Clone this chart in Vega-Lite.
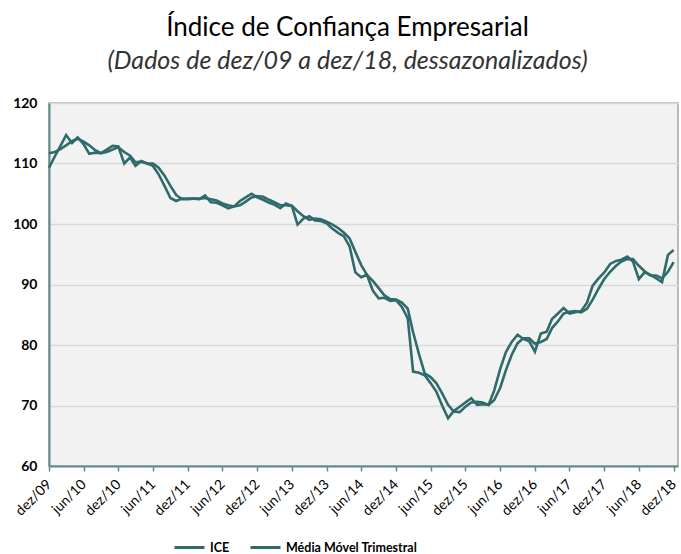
{
  "$schema": "https://vega.github.io/schema/vega-lite/v6.json",
  "width": 629,
  "height": 363,
  "autosize": {"type": "none"},
  "padding": {"left": 49, "top": 103, "right": 3, "bottom": 88},
  "background": "white",
  "title": {
    "text": "Índice de Confiança Empresarial",
    "subtitle": "(Dados de dez/09 a dez/18, dessazonalizados)",
    "font": "Lato",
    "fontSize": 26,
    "fontWeight": "normal",
    "color": "#000000",
    "subtitleFont": "Lato",
    "subtitleFontSize": 25,
    "subtitleFontStyle": "italic",
    "subtitleColor": "#333333",
    "subtitlePadding": 8,
    "anchor": "middle",
    "frame": "group",
    "dx": -16,
    "offset": 22
  },
  "config": {
    "view": {"fill": "#F2F2F2", "stroke": "#A6A6A6", "strokeWidth": 1.5}
  },
  "data": {
    "values": [
      {"d": "2009-12-01", "ice": 109.3, "mm": 111.7},
      {"d": "2010-01-01", "ice": 111.2, "mm": 111.9},
      {"d": "2010-02-01", "ice": 113.0, "mm": 112.4},
      {"d": "2010-03-01", "ice": 114.7, "mm": 113.0},
      {"d": "2010-04-01", "ice": 113.4, "mm": 113.7},
      {"d": "2010-05-01", "ice": 114.3, "mm": 114.1},
      {"d": "2010-06-01", "ice": 113.2, "mm": 113.6},
      {"d": "2010-07-01", "ice": 111.6, "mm": 113.0},
      {"d": "2010-08-01", "ice": 111.8, "mm": 112.2},
      {"d": "2010-09-01", "ice": 111.7, "mm": 111.7},
      {"d": "2010-10-01", "ice": 112.3, "mm": 111.9},
      {"d": "2010-11-01", "ice": 112.9, "mm": 112.3},
      {"d": "2010-12-01", "ice": 112.8, "mm": 112.7},
      {"d": "2011-01-01", "ice": 110.0, "mm": 111.9},
      {"d": "2011-02-01", "ice": 111.0, "mm": 111.3},
      {"d": "2011-03-01", "ice": 109.6, "mm": 110.2},
      {"d": "2011-04-01", "ice": 110.4, "mm": 110.3},
      {"d": "2011-05-01", "ice": 110.0, "mm": 110.0},
      {"d": "2011-06-01", "ice": 109.6, "mm": 110.0},
      {"d": "2011-07-01", "ice": 108.2, "mm": 109.3},
      {"d": "2011-08-01", "ice": 106.3, "mm": 108.0},
      {"d": "2011-09-01", "ice": 104.3, "mm": 106.3},
      {"d": "2011-10-01", "ice": 103.8, "mm": 104.8},
      {"d": "2011-11-01", "ice": 104.2, "mm": 104.1},
      {"d": "2011-12-01", "ice": 104.2, "mm": 104.1},
      {"d": "2012-01-01", "ice": 104.2, "mm": 104.2},
      {"d": "2012-02-01", "ice": 104.1, "mm": 104.2},
      {"d": "2012-03-01", "ice": 104.7, "mm": 104.3},
      {"d": "2012-04-01", "ice": 103.6, "mm": 104.1},
      {"d": "2012-05-01", "ice": 103.5, "mm": 103.9},
      {"d": "2012-06-01", "ice": 103.1, "mm": 103.4},
      {"d": "2012-07-01", "ice": 102.6, "mm": 103.1},
      {"d": "2012-08-01", "ice": 102.9, "mm": 102.9},
      {"d": "2012-09-01", "ice": 103.8, "mm": 103.1},
      {"d": "2012-10-01", "ice": 104.4, "mm": 103.7},
      {"d": "2012-11-01", "ice": 105.0, "mm": 104.4},
      {"d": "2012-12-01", "ice": 104.4, "mm": 104.6},
      {"d": "2013-01-01", "ice": 104.0, "mm": 104.5},
      {"d": "2013-02-01", "ice": 103.5, "mm": 104.0},
      {"d": "2013-03-01", "ice": 103.2, "mm": 103.6},
      {"d": "2013-04-01", "ice": 102.6, "mm": 103.1},
      {"d": "2013-05-01", "ice": 103.4, "mm": 103.1},
      {"d": "2013-06-01", "ice": 103.0, "mm": 103.0},
      {"d": "2013-07-01", "ice": 99.9, "mm": 102.1},
      {"d": "2013-08-01", "ice": 100.9, "mm": 101.3},
      {"d": "2013-09-01", "ice": 101.3, "mm": 100.7},
      {"d": "2013-10-01", "ice": 100.6, "mm": 100.9},
      {"d": "2013-11-01", "ice": 100.5, "mm": 100.8},
      {"d": "2013-12-01", "ice": 100.1, "mm": 100.4},
      {"d": "2014-01-01", "ice": 99.2, "mm": 99.9},
      {"d": "2014-02-01", "ice": 98.5, "mm": 99.3},
      {"d": "2014-03-01", "ice": 98.0, "mm": 98.6},
      {"d": "2014-04-01", "ice": 96.3, "mm": 97.6},
      {"d": "2014-05-01", "ice": 92.0, "mm": 95.4},
      {"d": "2014-06-01", "ice": 91.2, "mm": 93.2},
      {"d": "2014-07-01", "ice": 91.6, "mm": 91.6},
      {"d": "2014-08-01", "ice": 89.0, "mm": 90.6},
      {"d": "2014-09-01", "ice": 87.7, "mm": 89.4},
      {"d": "2014-10-01", "ice": 87.8, "mm": 88.2},
      {"d": "2014-11-01", "ice": 87.3, "mm": 87.6},
      {"d": "2014-12-01", "ice": 87.4, "mm": 87.5},
      {"d": "2015-01-01", "ice": 86.3, "mm": 87.0},
      {"d": "2015-02-01", "ice": 84.4, "mm": 86.0},
      {"d": "2015-03-01", "ice": 75.6, "mm": 82.1},
      {"d": "2015-04-01", "ice": 75.4, "mm": 78.5},
      {"d": "2015-05-01", "ice": 75.0, "mm": 75.3},
      {"d": "2015-06-01", "ice": 73.7, "mm": 74.7},
      {"d": "2015-07-01", "ice": 72.3, "mm": 73.7},
      {"d": "2015-08-01", "ice": 70.0, "mm": 72.0},
      {"d": "2015-09-01", "ice": 67.9, "mm": 70.1},
      {"d": "2015-10-01", "ice": 69.1, "mm": 69.0},
      {"d": "2015-11-01", "ice": 69.8, "mm": 68.9},
      {"d": "2015-12-01", "ice": 70.5, "mm": 69.8},
      {"d": "2016-01-01", "ice": 71.2, "mm": 70.5},
      {"d": "2016-02-01", "ice": 70.1, "mm": 70.6},
      {"d": "2016-03-01", "ice": 70.2, "mm": 70.5},
      {"d": "2016-04-01", "ice": 70.1, "mm": 70.1},
      {"d": "2016-05-01", "ice": 72.5, "mm": 70.9},
      {"d": "2016-06-01", "ice": 76.0, "mm": 72.9},
      {"d": "2016-07-01", "ice": 78.8, "mm": 75.8},
      {"d": "2016-08-01", "ice": 80.5, "mm": 78.4},
      {"d": "2016-09-01", "ice": 81.7, "mm": 80.3},
      {"d": "2016-10-01", "ice": 81.0, "mm": 81.1},
      {"d": "2016-11-01", "ice": 80.6, "mm": 81.1},
      {"d": "2016-12-01", "ice": 78.9, "mm": 80.2},
      {"d": "2017-01-01", "ice": 81.9, "mm": 80.5},
      {"d": "2017-02-01", "ice": 82.2, "mm": 81.0},
      {"d": "2017-03-01", "ice": 84.3, "mm": 82.8},
      {"d": "2017-04-01", "ice": 85.2, "mm": 83.9},
      {"d": "2017-05-01", "ice": 86.1, "mm": 85.2},
      {"d": "2017-06-01", "ice": 85.2, "mm": 85.5},
      {"d": "2017-07-01", "ice": 85.4, "mm": 85.6},
      {"d": "2017-08-01", "ice": 85.6, "mm": 85.4},
      {"d": "2017-09-01", "ice": 87.0, "mm": 86.0},
      {"d": "2017-10-01", "ice": 89.8, "mm": 87.5},
      {"d": "2017-11-01", "ice": 91.0, "mm": 89.3},
      {"d": "2017-12-01", "ice": 92.0, "mm": 90.9},
      {"d": "2018-01-01", "ice": 93.4, "mm": 92.1},
      {"d": "2018-02-01", "ice": 93.9, "mm": 93.1},
      {"d": "2018-03-01", "ice": 94.1, "mm": 93.8},
      {"d": "2018-04-01", "ice": 94.6, "mm": 94.2},
      {"d": "2018-05-01", "ice": 93.8, "mm": 94.2},
      {"d": "2018-06-01", "ice": 90.9, "mm": 93.1},
      {"d": "2018-07-01", "ice": 92.0, "mm": 92.2},
      {"d": "2018-08-01", "ice": 91.6, "mm": 91.5},
      {"d": "2018-09-01", "ice": 91.0, "mm": 91.5},
      {"d": "2018-10-01", "ice": 90.4, "mm": 91.0},
      {"d": "2018-11-01", "ice": 94.9, "mm": 92.1},
      {"d": "2018-12-01", "ice": 95.7, "mm": 93.7}
    ]
  },
  "transform": [
    {"fold": ["ice", "mm"], "as": ["serie", "valor"]}
  ],
  "mark": {"type": "line", "strokeWidth": 2.6, "strokeJoin": "miter"},
  "encoding": {
    "x": {
      "field": "d",
      "type": "temporal",
      "scale": {
        "type": "utc",
        "domain": [
          {"year": 2009, "month": 12, "date": 1, "utc": true},
          {"year": 2018, "month": 12, "date": 24, "utc": true}
        ]
      },
      "axis": {
        "title": null,
        "grid": false,
        "values": [
          {"year": 2009, "month": 12, "date": 1, "utc": true},
          {"year": 2010, "month": 6, "date": 1, "utc": true},
          {"year": 2010, "month": 12, "date": 1, "utc": true},
          {"year": 2011, "month": 6, "date": 1, "utc": true},
          {"year": 2011, "month": 12, "date": 1, "utc": true},
          {"year": 2012, "month": 6, "date": 1, "utc": true},
          {"year": 2012, "month": 12, "date": 1, "utc": true},
          {"year": 2013, "month": 6, "date": 1, "utc": true},
          {"year": 2013, "month": 12, "date": 1, "utc": true},
          {"year": 2014, "month": 6, "date": 1, "utc": true},
          {"year": 2014, "month": 12, "date": 1, "utc": true},
          {"year": 2015, "month": 6, "date": 1, "utc": true},
          {"year": 2015, "month": 12, "date": 1, "utc": true},
          {"year": 2016, "month": 6, "date": 1, "utc": true},
          {"year": 2016, "month": 12, "date": 1, "utc": true},
          {"year": 2017, "month": 6, "date": 1, "utc": true},
          {"year": 2017, "month": 12, "date": 1, "utc": true},
          {"year": 2018, "month": 6, "date": 1, "utc": true},
          {"year": 2018, "month": 12, "date": 1, "utc": true}
        ],
        "labelExpr": "(utcmonth(datum.value) == 11 ? 'dez/' : 'jun/') + utcFormat(datum.value, '%y')",
        "labelAngle": -45,
        "labelAlign": "right",
        "labelBaseline": "middle",
        "labelFont": "Lato",
        "labelFontSize": 14,
        "labelColor": "#000000",
        "labelPadding": 11,
        "labelOverlap": false,
        "labelFlush": false,
        "domainColor": "#5F8A8B",
        "domainWidth": 2,
        "tickColor": "#5F8A8B",
        "tickWidth": 1.5,
        "tickSize": 5
      }
    },
    "y": {
      "field": "valor",
      "type": "quantitative",
      "scale": {"domain": [60, 120], "nice": false, "zero": false},
      "axis": {
        "title": null,
        "values": [60, 70, 80, 90, 100, 110, 120],
        "grid": true,
        "gridColor": "#D9D9D9",
        "gridWidth": 1.5,
        "ticks": false,
        "domainColor": "#5F8A8B",
        "domainWidth": 2,
        "labelFont": "Lato",
        "labelFontSize": 14,
        "labelFontWeight": "bold",
        "labelColor": "#000000",
        "labelPadding": 12
      }
    },
    "color": {
      "field": "serie",
      "type": "nominal",
      "scale": {"domain": ["ice", "mm"], "range": ["#2F6B6B", "#2F6B6B"]},
      "legend": {
        "title": null,
        "orient": "none",
        "legendX": 124,
        "legendY": 428,
        "direction": "horizontal",
        "symbolType": "stroke",
        "symbolSize": 900,
        "symbolStrokeWidth": 3,
        "labelFont": "Lato",
        "labelFontSize": 12.5,
        "labelFontWeight": "bold",
        "labelColor": "#000000",
        "columnPadding": 14,
        "labelExpr": "datum.label == 'ice' ? 'ICE' : 'Média Móvel Trimestral'"
      }
    }
  }
}
